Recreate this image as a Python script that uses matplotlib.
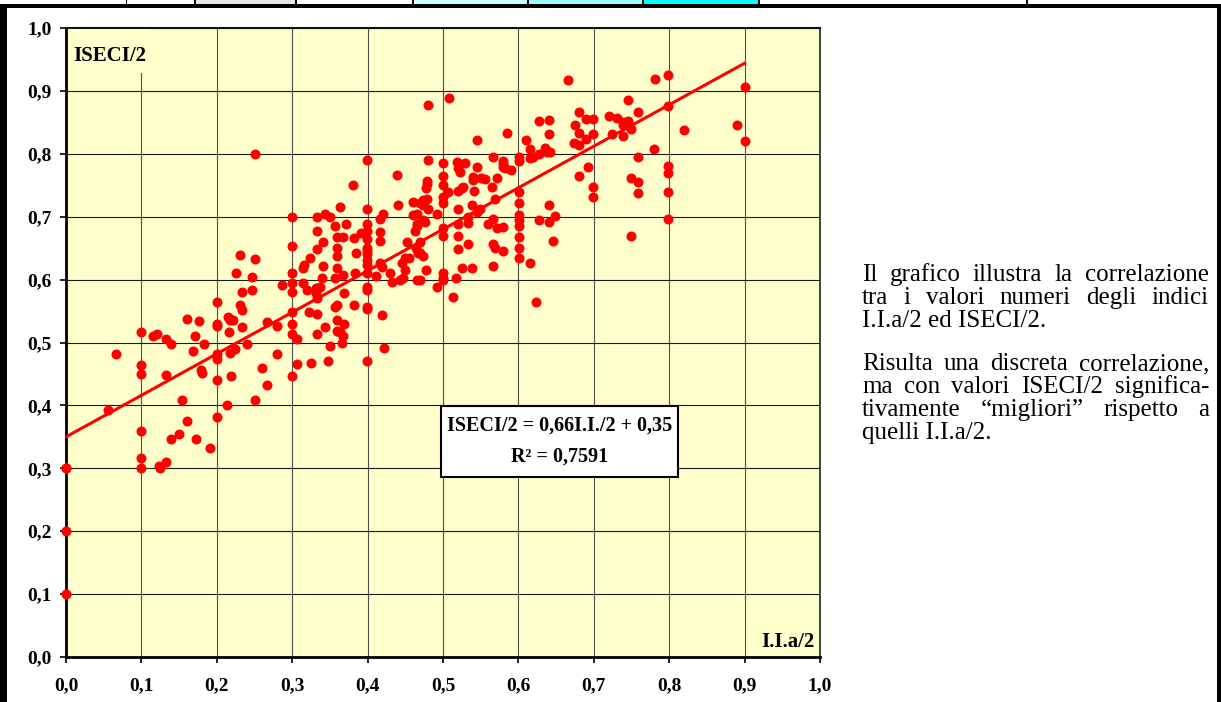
import numpy as np
import matplotlib.pyplot as plt
from matplotlib.patches import Rectangle

W, H = 1221, 702

# I.I.a/2 (x) and ISECI/2 (y) values
ii_a = [
    0, 0, 0, 0,
    0.056, 0.066,
    0.1, 0.1, 0.1, 0.1, 0.1, 0.1,
    0.115, 0.121, 0.133, 0.139, 0.133,
    0.123, 0.125, 0.133, 0.139, 0.15, 0.154, 0.16,
    0.16, 0.176, 0.171, 0.183, 0.168, 0.179, 0.18,
    0.172, 0.191,
    0.2, 0.2, 0.2, 0.2, 0.2, 0.2, 0.2,
    0.213, 0.215, 0.218, 0.222, 0.216, 0.218, 0.224, 0.219,
    0.231, 0.233, 0.233, 0.24, 0.251, 0.26, 0.267,
    0.267, 0.28, 0.28,
    0.3, 0.3, 0.3, 0.306, 0.3, 0.306,
    0.251, 0.399, 0.439, 0.38, 0.44, 0.46, 0.469, 0.399, 0.363, 0.42,
    0.3, 0.333, 0.343, 0.35, 0.357, 0.371, 0.333,
    0.399, 0.399, 0.399, 0.399, 0.399, 0.399, 0.399, 0.399, 0.399,
    0.416, 0.416, 0.416, 0.391, 0.382, 0.385, 0.359, 0.367, 0.341, 0.359, 0.333, 0.3, 0.359,
    0.324, 0.316, 0.314, 0.341, 0.359, 0.367, 0.357, 0.34, 0.383,
    0.399, 0.399, 0.411, 0.416, 0.419,
    0.43, 0.432, 0.443, 0.447, 0.45, 0.446, 0.45, 0.455, 0.467, 0.464, 0.463, 0.465, 0.46, 0.452, 0.469,
    0.3, 0.3, 0.3, 0.286, 0.314, 0.32, 0.332, 0.337, 0.332, 0.333, 0.369, 0.357, 0.359, 0.382, 0.399, 0.399,
    0.419, 0.422, 0.399,
    0.322, 0.333, 0.343, 0.333, 0.359, 0.369, 0.359, 0.363, 0.367, 0.366, 0.35, 0.347, 0.325,
    0.231, 0.251, 0.225, 0.247, 0.247, 0.233,
    0.666, 0.508, 0.48, 0.585, 0.545, 0.68, 0.675, 0.68,
    0.627, 0.64, 0.64, 0.61, 0.615, 0.635, 0.638, 0.642, 0.627, 0.615, 0.619,
    0.69, 0.699, 0.72, 0.731, 0.699, 0.69, 0.724, 0.674, 0.68, 0.692, 0.68, 0.699, 0.699,
    0.601, 0.601, 0.601, 0.601, 0.601, 0.601, 0.601, 0.601, 0.601, 0.601,
    0.615, 0.624, 0.627, 0.64, 0.649, 0.64, 0.646,
    0.566, 0.58, 0.58, 0.582, 0.59, 0.572, 0.58, 0.565, 0.569, 0.566, 0.572, 0.58, 0.56, 0.566, 0.569, 0.58, 0.566,
    0.545, 0.55, 0.556, 0.54, 0.54, 0.519, 0.529, 0.52, 0.523, 0.541, 0.527, 0.525, 0.52, 0.507,
    0.5, 0.5, 0.5, 0.5, 0.5, 0.5, 0.5, 0.5, 0.5, 0.5,
    0.48, 0.479, 0.479, 0.477, 0.473, 0.479, 0.473, 0.48, 0.466, 0.492, 0.466, 0.473, 0.476,
    0.52, 0.538, 0.549, 0.545, 0.533, 0.533, 0.52, 0.52, 0.52, 0.533, 0.525, 0.538, 0.517, 0.513, 0.492,
    0.477, 0.466, 0.469, 0.47, 0.473,
    0.798, 0.781, 0.9, 0.745, 0.798, 0.759, 0.82, 0.89, 0.9,
    0.739, 0.745, 0.739, 0.749, 0.739, 0.78, 0.759, 0.798, 0.798, 0.749, 0.759, 0.759, 0.798, 0.798, 0.749,
]
iseci = [
    0.30, 0.30, 0.20, 0.10,
    0.392, 0.481,
    0.516, 0.465, 0.45, 0.36, 0.317, 0.30,
    0.511, 0.514, 0.505, 0.498, 0.448,
    0.304, 0.301, 0.31, 0.346, 0.355, 0.408, 0.375,
    0.537, 0.534, 0.511, 0.498, 0.487, 0.457, 0.452,
    0.347, 0.333,
    0.564, 0.53, 0.527, 0.482, 0.473, 0.441, 0.381,
    0.401, 0.541, 0.535, 0.535, 0.516, 0.483, 0.49, 0.446,
    0.559, 0.551, 0.524, 0.498, 0.408, 0.46, 0.432,
    0.532, 0.527, 0.481,
    0.548, 0.53, 0.514, 0.506, 0.447, 0.466,
    0.80, 0.79, 0.767, 0.75, 0.718, 0.723, 0.721, 0.713, 0.715, 0.705,
    0.70, 0.70, 0.704, 0.70, 0.686, 0.688, 0.678,
    0.689, 0.677, 0.664, 0.651, 0.646, 0.64, 0.631, 0.623, 0.61,
    0.696, 0.675, 0.661, 0.674, 0.666, 0.643, 0.667, 0.667, 0.659, 0.651, 0.648, 0.653, 0.638,
    0.634, 0.623, 0.619, 0.621, 0.619, 0.608, 0.602, 0.602, 0.611,
    0.588, 0.584, 0.605, 0.627, 0.62,
    0.61, 0.596, 0.599, 0.602, 0.615, 0.626, 0.634, 0.635, 0.642, 0.651, 0.678, 0.689, 0.702, 0.659, 0.599,
    0.61, 0.594, 0.581, 0.592, 0.594, 0.584, 0.586, 0.588, 0.578, 0.57, 0.578, 0.556, 0.56, 0.56, 0.557, 0.554,
    0.543, 0.492, 0.47,
    0.549, 0.545, 0.524, 0.513, 0.535, 0.53, 0.519, 0.516, 0.511, 0.5, 0.494, 0.471, 0.468,
    0.639, 0.632, 0.61, 0.604, 0.583, 0.581,
    0.917, 0.889, 0.877, 0.833, 0.822, 0.866, 0.846, 0.833,
    0.852, 0.854, 0.831, 0.822, 0.807, 0.809, 0.803, 0.803, 0.799, 0.793, 0.795,
    0.855, 0.855, 0.86, 0.857, 0.831, 0.823, 0.831, 0.817, 0.814, 0.779, 0.764, 0.747, 0.731,
    0.795, 0.788, 0.739, 0.721, 0.702, 0.694, 0.686, 0.667, 0.651, 0.635,
    0.627, 0.564, 0.694, 0.691, 0.701, 0.718, 0.662,
    0.795, 0.788, 0.779, 0.777, 0.775, 0.761, 0.784, 0.747, 0.728, 0.697, 0.682, 0.683, 0.688, 0.656, 0.651, 0.646, 0.621,
    0.779, 0.761, 0.76, 0.763, 0.758, 0.787, 0.785, 0.777, 0.771, 0.741, 0.748, 0.745, 0.741, 0.739,
    0.785, 0.764, 0.75, 0.731, 0.721, 0.682, 0.67, 0.611, 0.603, 0.6,
    0.79, 0.756, 0.752, 0.745, 0.726, 0.728, 0.718, 0.713, 0.705, 0.704, 0.686, 0.694, 0.691,
    0.712, 0.718, 0.712, 0.707, 0.699, 0.69, 0.688, 0.67, 0.648, 0.656, 0.618, 0.619, 0.603, 0.572, 0.589,
    0.616, 0.599, 0.659, 0.643, 0.638,
    0.925, 0.919, 0.906, 0.885, 0.876, 0.866, 0.838, 0.846, 0.82,
    0.85, 0.852, 0.846, 0.839, 0.828, 0.807, 0.795, 0.78, 0.769, 0.761, 0.755, 0.737, 0.74, 0.697, 0.67,
]

slope, intercept = 0.66, 0.35
r2 = 0.7591

tick_vals = [0.0, 0.1, 0.2, 0.3, 0.4, 0.5, 0.6, 0.7, 0.8, 0.9, 1.0]
tick_labels = ['0,0', '0,1', '0,2', '0,3', '0,4', '0,5', '0,6', '0,7', '0,8', '0,9', '1,0']

side_text = [
    'Il grafico illustra la correlazione',
    'tra i valori numeri degli indici',
    'I.I.a/2 ed ISECI/2.',
    'Risulta una discreta correlazione,',
    'ma con valori ISECI/2 significa-',
    'tivamente \u201cmigliori\u201d rispetto a',
    'quelli I.I.a/2.',
]
justified = [True, True, False, True, True, True, False]

SERIF = 'Liberation Serif'


def fx(px):
    return px / W


def fy(py):
    return 1 - py / H


fig = plt.figure(figsize=(W / 100, H / 100), dpi=100)

ax = fig.add_axes([fx(66), fy(657), fx(820) - fx(66), fy(28) - fy(657)])
ax.set_facecolor('#ffffcc')
ax.set_xlim(0, 1)
ax.set_ylim(0, 1)
ax.set_xticks(tick_vals, tick_labels, fontsize=14, fontweight='bold', family=SERIF)
ax.set_yticks(tick_vals, tick_labels, fontsize=14, fontweight='bold', family=SERIF)
ax.tick_params(axis='both', direction='out', length=4.5, width=1.2, color='black')
ax.tick_params(axis='x', pad=10)
ax.tick_params(axis='y', pad=6)
ax.grid(axis='y', color='#1a1a1a', lw=0.8)
ax.grid(axis='x', color='#4d4d4d', lw=0.8)
ax.set_axisbelow(True)
for side in ['left', 'bottom']:
    ax.spines[side].set_linewidth(2)
    ax.spines[side].set_color('black')
ax.spines['top'].set_linewidth(1.5)
ax.spines['top'].set_color('#111111')
ax.spines['right'].set_linewidth(1.3)
ax.spines['right'].set_color('#333333')

# points
ax.plot(ii_a, iseci, 'o', color='red', ms=6.2, mec='red', clip_on=False, zorder=3)

# trend line over the data range
xs = np.array([min(ii_a), max(ii_a)])
ax.plot(xs, slope * xs + intercept, color='red', lw=2.2, zorder=4)

# axis names inside the plot (the y name hides the grid behind it)
fig.add_artist(Rectangle((fx(68), fy(73)), fx(150) - fx(68), fy(29) - fy(73),
                         transform=fig.transFigure, facecolor='#ffffcc',
                         edgecolor='none', zorder=1))
fig.text(fx(73), fy(56), 'ISECI/2', fontsize=15, fontweight='bold', family=SERIF,
         ha='left', va='center', zorder=5)
fig.text(fx(814), fy(642), 'I.I.a/2', fontsize=15, fontweight='bold', family=SERIF,
         ha='right', va='center', zorder=5)

# equation box
fig.add_artist(Rectangle((fx(441), fy(477)), fx(678) - fx(441), fy(406) - fy(477),
                         transform=fig.transFigure, facecolor='white',
                         edgecolor='black', lw=1.5, zorder=6))
eq = 'ISECI/2 = %sI.I./2 + %s' % (('%.2f' % slope).replace('.', ','),
                                  ('%.2f' % intercept).replace('.', ','))
fig.text(fx(560), fy(426), eq, fontsize=14.5, fontweight='bold', family=SERIF,
         ha='center', va='center', zorder=7)
fig.text(fx(560), fy(457), 'R\u00b2 = ' + ('%.4f' % r2).replace('.', ','),
         fontsize=14.5, fontweight='bold', family=SERIF,
         ha='center', va='center', zorder=7)

# page frame: table strip at top, side borders
fig.add_artist(Rectangle((0, fy(8)), 1, fy(4) - fy(8), transform=fig.transFigure,
                         facecolor='black', edgecolor='none'))
cells = [(194, 295, '#e6e6e6'), (412, 527, '#ccffff'), (527, 642, '#99ffff'), (642, 758, '#00ffff')]
for a, b, c in cells:
    fig.add_artist(Rectangle((fx(a), fy(4)), fx(b) - fx(a), fy(0) - fy(4),
                             transform=fig.transFigure, facecolor=c, edgecolor='none'))
for px in [126, 194, 295, 412, 527, 642, 758, 1026]:
    fig.add_artist(Rectangle((fx(px), fy(4)), fx(1.5), fy(0) - fy(4),
                             transform=fig.transFigure, facecolor='black', edgecolor='none'))
fig.add_artist(Rectangle((0, 0), fx(7), fy(4), transform=fig.transFigure,
                         facecolor='black', edgecolor='none'))
fig.add_artist(Rectangle((fx(1217), 0), fx(4), fy(4), transform=fig.transFigure,
                         facecolor='black', edgecolor='none'))

# justified paragraph on the right
left, right = 862, 1209
baselines = [281, 304, 327, 370, 393, 416, 439]
renderer = fig.canvas.get_renderer()
for line, base, just in zip(side_text, baselines, justified):
    if not just:
        fig.text(fx(left), fy(base), line, fontsize=18, family=SERIF, va='baseline')
        continue
    words = line.split(' ')
    arts = [fig.text(0, fy(base), w, fontsize=18, family=SERIF, va='baseline') for w in words]
    widths = [t.get_window_extent(renderer).width for t in arts]
    gap = (right - left - sum(widths)) / (len(words) - 1)
    pos = left
    for t, w in zip(arts, widths):
        t.set_x(fx(pos))
        pos += w + gap

fig.savefig('out.png', dpi=100)
